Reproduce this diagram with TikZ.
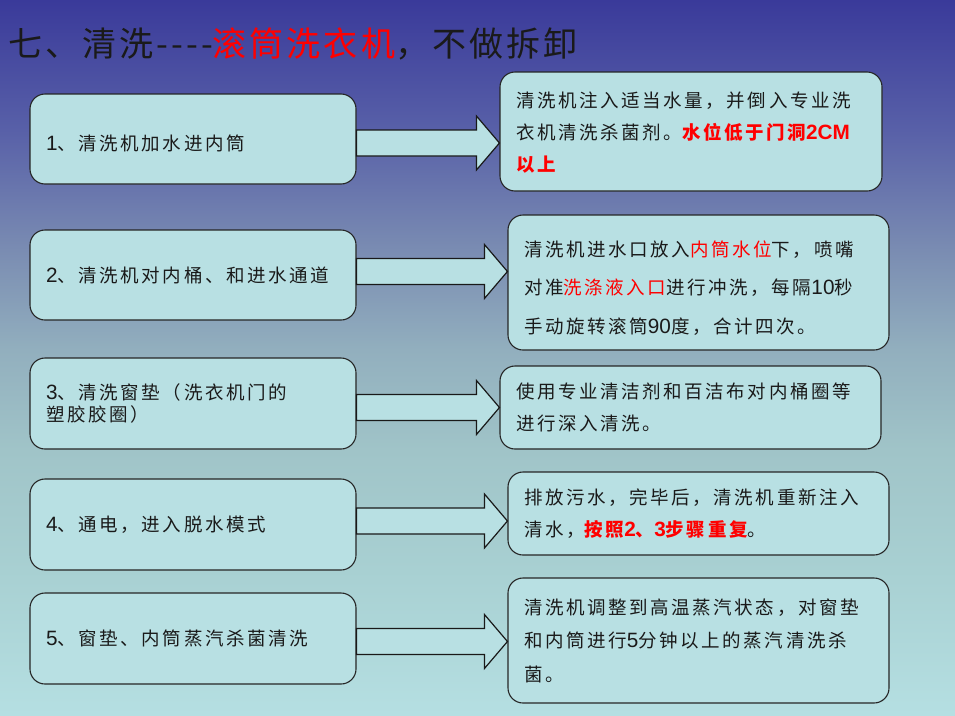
\documentclass[tikz,border=0pt]{standalone}
\usepackage{fontspec}
\setmainfont{Noto Sans CJK SC}
\newfontfamily\bodyf{Noto Sans CJK SC}[LetterSpace=14]
\newfontfamily\titlef{Noto Sans CJK SC}[LetterSpace=9]
\newfontfamily\latf{Liberation Sans}[Scale=1.12]
\newcommand\lat[1]{{\latf #1}}
\definecolor{c0}{RGB}{58,58,154}
\definecolor{c130}{RGB}{88,96,168}
\definecolor{c250}{RGB}{122,140,178}
\definecolor{c350}{RGB}{146,175,190}
\definecolor{c450}{RGB}{160,196,200}
\definecolor{c570}{RGB}{168,208,210}
\definecolor{c715}{RGB}{181,223,226}
\definecolor{boxc}{RGB}{184,224,227}
\definecolor{txt}{RGB}{26,26,26}
\definecolor{hl}{RGB}{255,0,0}
\pgfdeclareverticalshading{bgshade}{100bp}{color(0bp)=(c715); color(25bp)=(c715); color(35.14bp)=(c570); color(43.53bp)=(c450); color(50.52bp)=(c350); color(57.52bp)=(c250); color(65.91bp)=(c130); color(75bp)=(c0); color(100bp)=(c0)}
\tikzset{
  box/.style={draw=black!85, line width=1.1pt, fill=boxc, rounded corners=15pt,
    inner xsep=16pt, inner ysep=0pt, align=left, text=txt,
    font=\bodyf\fontsize{18.5}{32}\selectfont},
  lbox/.style={box, minimum width=326pt, text width=294pt},
  rbox/.style={box, minimum width=381pt, text width=349pt},
  arrsty/.style={draw=black!90, line width=1.2pt, fill=boxc, line join=miter},
  titlesty/.style={anchor=west, inner sep=0pt, text=txt,
    font=\titlef\fontsize{34}{40}\selectfont}
}
\newcommand\blockarr[3]{%
  \coordinate (s) at (#1.east |- 0,#3);
  \coordinate (t) at (#2.west |- 0,#3);
  \filldraw[arrsty] ([shift={(0,-13)}]s) -- ([shift={(-23,-13)}]t) -- ([shift={(-23,-27)}]t)
    -- (t) -- ([shift={(-23,27)}]t) -- ([shift={(-23,13)}]t) -- ([shift={(0,13)}]s) -- cycle;}
\begin{document}
\begin{tikzpicture}[x=1pt,y=-1pt]
\useasboundingbox (0,0) rectangle (955,715);
\fill[shading=bgshade] (0,0) rectangle (955,715);
\node[titlesty] (title) at (8,44) {七、清洗----{\color{hl}滚筒洗衣机}，不做拆卸};
% left boxes
\node[lbox, minimum height=90pt] (l1) at (193,139) {\rule{0pt}{24pt}\lat{1}、清洗机加水进内筒};
\node[lbox, minimum height=90pt] (l2) at (193,275) {\lat{2}、清洗机对内桶、和进水通道};
\node[lbox, minimum height=91pt, font=\bodyf\fontsize{18.5}{22.5}\selectfont] (l3) at (193,403.5) {\lat{3}、清洗窗垫（洗衣机门的\\塑胶胶圈）};
\node[lbox, minimum height=91pt] (l4) at (193,524.5) {\lat{4}、通电，进入脱水模式};
\node[lbox, minimum height=91pt] (l5) at (193,638.5) {\lat{5}、窗垫、内筒蒸汽杀菌清洗};
% right boxes
\node[rbox, minimum width=382pt, text width=350pt, minimum height=119pt] (r1) at (691,131.5)
  {\rule{0pt}{18pt}清洗机注入适当水量，并倒入专业洗\\衣机清洗杀菌剂。{\bfseries\color{hl}水位低于门洞\lat{2CM}}\\{\bfseries\color{hl}以上}};
\node[rbox, minimum height=135pt, font=\bodyf\fontsize{18.5}{38.5}\selectfont] (r2) at (698.5,282.5)
  {\rule{0pt}{26pt}清洗机进水口放入{\color{hl}内筒水位}下，喷嘴\\对准{\color{hl}洗涤液入口}进行冲洗，每隔\lat{10}秒\\手动旋转滚筒\lat{90}度，合计四次。};
\node[rbox, minimum height=83pt] (r3) at (690.5,407.5)
  {使用专业清洁剂和百洁布对内桶圈等\\进行深入清洗。};
\node[rbox, minimum height=83pt] (r4) at (698.5,513.5)
  {排放污水，完毕后，清洗机重新注入\\清水，{\bfseries\color{hl}按照\lat{2}、\lat{3}步骤重复}。};
\node[rbox, minimum height=125pt, font=\bodyf\fontsize{18.5}{33.5}\selectfont] (r5) at (698.5,640.5)
  {清洗机调整到高温蒸汽状态，对窗垫\\和内筒进行\lat{5}分钟以上的蒸汽清洗杀\\菌。};
% arrows
\blockarr{l1}{r1}{143}
\blockarr{l2}{r2}{271.5}
\blockarr{l3}{r3}{407.5}
\blockarr{l4}{r4}{521}
\blockarr{l5}{r5}{641.5}
\end{tikzpicture}
\end{document}
